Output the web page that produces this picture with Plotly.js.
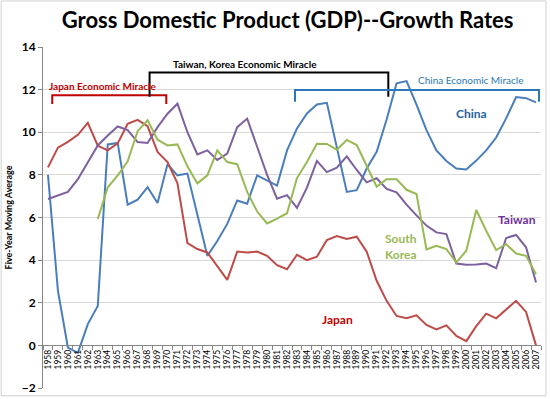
<!DOCTYPE html>
<html>
<head>
<meta charset="utf-8">
<script src="https://cdn.plot.ly/plotly-3.0.1.min.js"></script>
<style>html,body{margin:0;padding:0;background:#fff;}#chart{width:550px;height:399px;}</style>
</head>
<body>
<div id="chart"></div>
<script>
const years = [1958,1959,1960,1961,1962,1963,1964,1965,1966,1967,1968,1969,1970,1971,1972,1973,1974,1975,1976,1977,1978,1979,1980,1981,1982,1983,1984,1985,1986,1987,1988,1989,1990,1991,1992,1993,1994,1995,1996,1997,1998,1999,2000,2001,2002,2003,2004,2005,2006,2007];
const china = [8.0,2.56,-0.1,-0.35,1.0,1.85,9.43,9.5,6.6,6.84,7.42,6.68,8.5,7.98,8.06,6.1,4.2,4.9,5.7,6.8,6.65,7.98,7.75,7.5,9.15,10.18,10.88,11.3,11.38,9.3,7.2,7.28,8.3,9.08,10.6,12.3,12.4,11.3,10.1,9.15,8.65,8.3,8.25,8.67,9.15,9.75,10.65,11.65,11.6,11.4];
const japan = [8.35,9.28,9.55,9.88,10.44,9.37,9.15,9.48,10.4,10.58,10.29,9.08,8.6,7.6,4.8,4.52,4.36,3.73,3.07,4.4,4.36,4.4,4.2,3.76,3.57,4.25,4.0,4.16,4.94,5.13,4.99,5.1,4.4,3.03,2.09,1.38,1.27,1.41,0.96,0.75,0.94,0.44,0.2,0.9,1.49,1.27,1.7,2.09,1.57,0.0];
const taiwan = [6.87,7.03,7.2,7.8,8.6,9.38,9.85,10.27,10.1,9.54,9.5,10.24,10.87,11.34,10.0,8.96,9.15,8.7,9.0,10.24,10.64,9.3,8.0,6.88,7.05,6.45,7.4,8.66,8.13,8.34,8.87,8.23,7.65,7.84,7.34,7.18,6.6,6.1,5.62,5.3,5.22,3.84,3.78,3.8,3.84,3.62,5.04,5.18,4.6,2.95];
const korea = [null,null,null,null,null,5.93,7.42,7.97,8.64,10.05,10.56,9.65,9.38,9.43,8.4,7.6,7.98,9.15,8.6,8.5,7.2,6.28,5.72,5.95,6.2,7.85,8.6,9.46,9.45,9.18,9.64,9.4,8.4,7.45,7.8,7.8,7.3,7.1,4.5,4.67,4.52,3.89,4.44,6.35,5.38,4.47,4.75,4.31,4.2,3.34];
const yearLabels = years.map(String);
const seriesNames = ["China","Japan","Taiwan","South Korea"];

const FONT = "Lato, 'Open Sans', sans-serif";
const colors = {China:"#4A7EBB", Japan:"#BE4B48", Taiwan:"#7D60A0", "South Korea":"#98B954"};
const seriesData = {China:china, Japan:japan, Taiwan:taiwan, "South Korea":korea};

const traces = seriesNames.map(n => ({
  x: years, y: seriesData[n], type:"scatter", mode:"lines", name:n,
  line:{color:colors[n], width:2}, connectgaps:false, hoverinfo:"x+y+name"
}));

const bracket = (x0, x1, yb, yt, color) => ({
  type:"path", xref:"x", yref:"y",
  path:`M ${x0},${yb} L ${x0},${yt} L ${x1},${yt} L ${x1},${yb}`,
  line:{color:color, width:2}
});

const layout = {
  width:550, height:399,
  margin:{l:43, r:9, t:47, b:11, pad:0},
  paper_bgcolor:"#fff", plot_bgcolor:"#fff",
  showlegend:false,
  font:{family:FONT, color:"#000"},
  title:{text:"Gross Domestic Product (GDP)--Growth Rates", x:0.523, xanchor:"center", y:0.95, yanchor:"middle",
         font:{family:FONT, size:22, weight:"bold", color:"#000"}},
  xaxis:{range:[1957.5,2007.5], anchor:"free", position:0.125,
         tickmode:"array", tickvals:years, ticktext:yearLabels, tickangle:-90,
         tickfont:{size:8.5, family:FONT, color:"#000"},
         showgrid:false, zeroline:false, showline:true, linecolor:"#868686", linewidth:1,
         ticks:"", fixedrange:true,
         minor:{ticks:"outside", ticklen:4, tickcolor:"#868686", tickmode:"linear", tick0:1957.5, dtick:1, showgrid:false}},
  yaxis:{range:[-2,14], tick0:0, dtick:2, showgrid:true, gridcolor:"#D9D9D9", gridwidth:1,
         zeroline:false, showline:true, linecolor:"#868686", linewidth:1,
         ticks:"outside", ticklen:4, tickcolor:"#868686",
         tickfont:{size:12, family:FONT, weight:"bold", color:"#000"},
         title:{text:"Five-Year Moving Average", standoff:7, font:{size:9, family:FONT, weight:"bold", color:"#000"}},
         fixedrange:true},
  shapes:[
    {type:"rect", xref:"paper", yref:"paper", x0:-0.084, x1:1.01, y0:-0.023, y1:1.135, line:{color:"#D0D0D0", width:1}, layer:"below"},
    bracket(1958.43, 1969.88, 11.32, 11.74, "#C00000"),
    bracket(1968.2, 1992.17, 11.66, 12.8, "#000000"),
    bracket(1982.8, 2007.3, 11.43, 11.98, "#2A78B8")
  ],
  annotations:[
    {text:"Japan Economic Miracle", x:1963.52, y:12.17, xref:"x", yref:"y", showarrow:false, font:{size:10, family:FONT, weight:"bold", color:"#C00000"}},
    {text:"Taiwan, Korea Economic Miracle", x:1977.78, y:13.18, xref:"x", yref:"y", showarrow:false, font:{size:10, family:FONT, weight:"bold", color:"#000"}},
    {text:"China Economic Miracle", x:2000.44, y:12.43, xref:"x", yref:"y", showarrow:false, font:{size:10, family:FONT, color:"#2A78B8"}},
    {text:"China", x:2000.54, y:10.88, xref:"x", yref:"y", showarrow:false, font:{size:12, family:FONT, weight:"bold", color:"#1F5F9F"}},
    {text:"Japan", x:1987.05, y:1.21, xref:"x", yref:"y", showarrow:false, font:{size:12, family:FONT, weight:"bold", color:"#C00000"}},
    {text:"South<br>Korea", x:1993.41, y:4.62, xref:"x", yref:"y", showarrow:false, align:"left", font:{size:12, family:FONT, weight:"bold", color:"#98B954"}},
    {text:"Taiwan", x:2005.12, y:5.9, xref:"x", yref:"y", showarrow:false, font:{size:12, family:FONT, weight:"bold", color:"#7030A0"}}
  ]
};

Plotly.newPlot("chart", traces, layout, {displayModeBar:false, staticPlot:true});
</script>
</body>
</html>
